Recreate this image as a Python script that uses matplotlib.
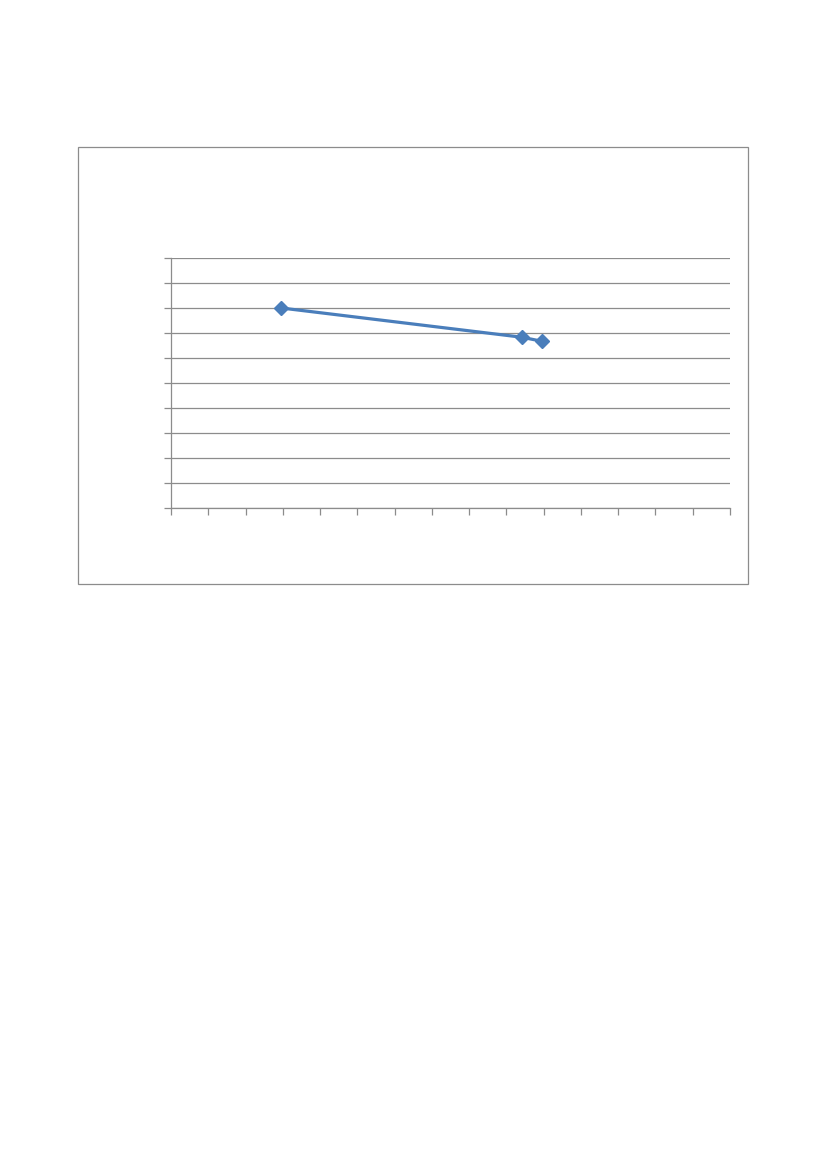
import matplotlib
matplotlib.use("Agg")
import matplotlib.pyplot as plt
from matplotlib.patches import Rectangle

# series (no axis labels shown in the original)
x_vals = [2.96, 9.42, 9.95]
y_vals = [8.0, 6.83, 6.67]
x_ticks = list(range(0, 16))
y_ticks = list(range(0, 11))

W, H = 827, 1169
fig = plt.figure(figsize=(W / 100, H / 100), dpi=100)

# outer chart frame
frame = Rectangle((78 / W, 1 - 584 / H), (748 - 78) / W, (584 - 147) / H,
                  transform=fig.transFigure, fill=False, edgecolor="#8c8c8c", linewidth=0.9)
fig.patches.append(frame)

ax = fig.add_axes([171 / W, 1 - 508 / H, (730 - 171) / W, (508 - 258) / H])
ax.set_xlim(0, 15)
ax.set_ylim(0, 10)
ax.set_xticks(x_ticks)
ax.set_yticks(y_ticks)
ax.set_xticklabels([])
ax.set_yticklabels([])
ax.grid(axis="y", color="#8c8c8c", linewidth=0.9)
ax.set_axisbelow(True)
for s in ["top", "right"]:
    ax.spines[s].set_visible(False)
for s in ["left", "bottom"]:
    ax.spines[s].set_color("#8c8c8c")
    ax.spines[s].set_linewidth(0.9)
ax.tick_params(axis="both", direction="out", length=5, width=0.9, color="#8c8c8c")

ax.plot(x_vals, y_vals, color="#4a7ebb", linewidth=2.3, marker="D", markersize=7,
        markerfacecolor="#4a7ebb", markeredgecolor="#4a7ebb", clip_on=False, zorder=3)

fig.savefig("out.png", dpi=100)
